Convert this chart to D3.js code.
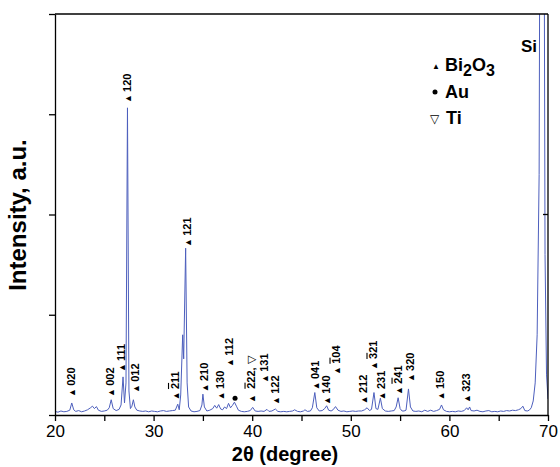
<!DOCTYPE html>
<html>
<head>
<meta charset="utf-8">
<script src="https://cdn.jsdelivr.net/npm/d3@7"></script>
<style>
  body { margin: 0; background: #fff; }
  text { font-family: "Liberation Sans", Arial, sans-serif; }
</style>
</head>
<body>
<div id="chart"></div>
<script>
// XRD pattern (2theta in degree, intensity in arbitrary units)
var twoTheta = [20.0,20.3,20.6,20.9,21.2,21.5,21.7,21.9,22.1,22.4,22.7,23.0,23.3,23.6,23.8,24.0,24.2,24.4,24.7,25.0,
  25.3,25.5,25.7,25.9,26.2,26.5,26.7,26.9,27.05,27.2,27.35,27.5,27.65,27.8,27.95,28.1,28.3,28.6,28.9,29.2,
  29.5,29.8,30.1,30.4,30.7,31.0,31.3,31.6,31.9,32.2,32.45,32.6,32.75,32.95,33.05,33.25,33.4,33.55,33.8,34.1,
  34.4,34.7,34.9,35.0,35.15,35.4,35.7,36.0,36.2,36.4,36.6,36.8,37.0,37.2,37.4,37.6,37.8,38.0,38.2,38.4,
  38.6,38.9,39.2,39.5,39.8,40.05,40.3,40.6,40.9,41.2,41.5,41.7,42.0,42.35,42.6,42.9,43.2,43.5,43.8,44.1,
  44.3,44.6,44.9,45.2,45.35,45.6,45.9,46.1,46.35,46.55,46.8,47.1,47.35,47.55,47.75,48.0,48.2,48.45,48.7,49.0,
  49.3,49.6,49.9,50.2,50.5,50.8,51.1,51.4,51.65,51.9,52.1,52.35,52.55,52.75,53.0,53.2,53.5,53.8,54.1,54.4,
  54.6,54.8,55.0,55.2,55.4,55.6,55.85,56.05,56.3,56.6,56.9,57.2,57.5,57.8,58.1,58.4,58.7,59.0,59.2,59.4,
  59.7,60.0,60.3,60.6,60.9,61.2,61.5,61.75,61.9,62.05,62.2,62.5,62.8,63.1,63.4,63.7,64.0,64.3,64.6,64.9,
  65.2,65.5,65.8,66.1,66.4,66.7,67.0,67.25,67.45,67.65,67.9,68.1,68.3,68.5,68.7,68.9,69.1,69.2,69.55,69.7,
  69.85,70.0];
var intensity = [0.9,0.7,1.0,0.8,0.9,1.2,3.0,1.3,0.9,1.1,0.8,1.0,1.3,1.8,2.2,1.6,2.1,1.2,0.9,1.0,
  1.2,1.8,3.8,1.6,1.1,1.4,2.5,9.5,3.0,8.0,76.6,6.0,1.6,2.2,3.8,2.0,1.2,1.0,0.9,1.0,
  0.8,1.0,0.9,0.8,1.0,1.1,0.9,1.0,1.1,1.2,2.7,1.3,5.0,20.0,14.0,41.6,8.0,2.0,1.0,0.8,
  0.9,1.1,2.5,5.2,2.0,1.0,1.2,1.6,2.4,1.7,2.6,1.5,1.3,2.0,1.6,2.9,1.8,2.4,3.2,2.2,
  1.2,0.9,0.8,0.9,1.1,1.9,1.0,0.9,1.0,0.9,1.4,0.9,1.0,1.5,0.9,0.8,0.9,0.8,0.9,1.0,
  1.3,0.9,0.8,1.0,1.3,0.9,1.0,1.8,5.6,1.8,1.0,1.1,1.6,2.3,1.2,1.0,1.3,2.1,1.2,0.9,
  1.0,0.8,0.9,1.0,0.9,1.0,1.0,1.3,1.8,1.1,1.4,5.6,1.6,1.4,4.2,1.6,1.0,0.9,1.0,1.1,
  2.0,4.3,1.6,1.0,1.0,1.2,6.5,2.0,1.0,0.9,1.0,0.8,1.2,0.9,1.2,0.9,1.1,1.4,2.5,1.3,
  0.9,0.8,0.9,0.8,1.0,0.9,1.1,1.8,1.3,2.0,1.1,1.0,1.2,0.9,0.8,1.0,1.1,0.8,0.9,0.8,
  1.0,0.9,1.1,1.0,1.2,1.1,1.3,1.6,2.2,1.1,1.0,1.2,1.8,3.5,8.0,20.0,60.0,150.0,180.0,40.0,
  10.0,4.0];

// peak labels: Miller index, position (2theta), foot of the label (intensity), overlined digit (-1 = none)
var peakText = ["020","002","111","012","211","120","121","210","130","112","222,","131","122",
  "041","140","104","212","321","231","241","320","150","323"];
var peakPos  = [21.62,25.58,26.74,28.11,32.17,27.3,33.34,35.16,36.73,37.6,39.93,41.25,42.31,
  46.37,47.53,48.55,51.29,52.3,53.11,54.84,56.0,59.05,61.73];
var peakFoot = [4.5,4.5,10.7,5.5,3.7,77.8,41.9,5.7,3.7,12,3.0,8.0,2.5,
  6.2,2.5,10,2.7,11.2,3.7,5.0,8.2,3.7,3.0];
var peakBar  = [-1,-1,-1,-1,0,-1,-1,-1,-1,-1,0,-1,-1,
  -1,-1,0,-1,0,-1,0,-1,-1,-1];

var auPeak = [38.26, 4.2];

var xTicks = [20,25,30,35,40,45,50,55,60,65,70];
var yTicks = [0,25,50,75,100];

var margin = {top: 14, right: 12, bottom: 52, left: 55},
    width = 560 - margin.left - margin.right,
    height = 467 - margin.top - margin.bottom;

var svg = d3.select("#chart")
  .append("svg")
    .attr("width", 560)
    .attr("height", 467)
  .append("g")
    .attr("transform", "translate(" + margin.left + "," + margin.top + ")");

var x = d3.scaleLinear().domain([20, 70]).range([0, width]);
var y = d3.scaleLinear().domain([0, 100]).range([height, 0]);

// clip for the curve
svg.append("defs").append("clipPath")
    .attr("id", "clip")
  .append("rect")
    .attr("width", width)
    .attr("height", height);

var pts = twoTheta.map(function(t, i) { return [t, intensity[i]]; });

svg.append("path")
  .datum(pts)
  .attr("clip-path", "url(#clip)")
  .attr("fill", "none")
  .attr("stroke", "#4d5fbd")
  .attr("stroke-width", 1)
  .attr("d", d3.line().x(d => x(d[0])).y(d => y(d[1])));

// axes
var xAxis = svg.append("g")
  .attr("transform", "translate(0," + height + ")")
  .call(d3.axisBottom(x).tickValues(xTicks)
    .tickFormat(d => d % 10 === 0 ? d : "")
    .tickSizeInner(6).tickSizeOuter(0).tickPadding(4));
xAxis.selectAll("text").style("font-size", "17px").attr("fill", "#000");

var yAxis = svg.append("g")
  .call(d3.axisLeft(y).tickValues(yTicks).tickFormat("").tickSizeInner(6).tickSizeOuter(0));

svg.selectAll(".domain, .tick line").attr("stroke", "#000").attr("stroke-width", 1.3);

// frame top and right
svg.append("line").attr("x1", 0).attr("x2", width).attr("y1", 0).attr("y2", 0)
  .attr("stroke", "#000").attr("stroke-width", 1.3);
svg.append("line").attr("x1", width).attr("x2", width).attr("y1", 0).attr("y2", height)
  .attr("stroke", "#000").attr("stroke-width", 1.3);
svg.append("line").attr("x1", width - 5).attr("x2", width).attr("y1", y(50)).attr("y2", y(50))
  .attr("stroke", "#000").attr("stroke-width", 1.3);

// axis titles
svg.append("text")
  .attr("x", 230)
  .attr("y", height + 46)
  .style("text-anchor", "middle")
  .style("font-size", "20px")
  .style("font-weight", "bold")
  .text("2\u03b8 (degree)");

svg.append("text")
  .attr("transform", "translate(-29," + 201 + ") rotate(-90)")
  .style("text-anchor", "middle")
  .style("font-size", "24px")
  .style("font-weight", "bold")
  .text("Intensity, a.u.");

// peak labels
peakText.forEach(function(t, i) {
  var lab = svg.append("text")
    .attr("transform", "translate(" + x(peakPos[i]) + "," + y(peakFoot[i]) + ") rotate(-90)")
    .attr("dy", "0.36em")
    .style("font-size", "11px")
    .style("font-weight", "bold");
  lab.append("tspan").style("font-size", "9px").text("\u25b2");
  lab.append("tspan").text(t === "222," ? "\u2009 " : "\u2009");
  t.split("").forEach(function(c, j) {
    var ts = lab.append("tspan").text(c);
    if (j === peakBar[i]) ts.style("text-decoration", "overline");
  });
  if (t === "222,") lab.append("tspan").style("font-weight", "normal").text(" \u25bd");
});

svg.append("circle")
  .attr("cx", x(auPeak[0]))
  .attr("cy", y(auPeak[1]))
  .attr("r", 2.5)
  .attr("fill", "#000");

// Si mark
svg.append("text")
  .attr("x", 466).attr("y", 38)
  .style("font-size", "17px").style("font-weight", "bold")
  .text("Si");

// legend
var leg = svg.append("g").attr("transform", "translate(377,0)");
leg.append("text").attr("x", 0).attr("y", 55).style("font-size", "8px").text("\u25b2");
var bi = leg.append("text").attr("x", 13).attr("y", 57)
  .style("font-size", "18px").style("font-weight", "bold");
bi.append("tspan").text("Bi");
bi.append("tspan").attr("dy", 5).style("font-size", "16px").text("2");
bi.append("tspan").attr("dy", -5).text("O");
bi.append("tspan").attr("dy", 5).style("font-size", "16px").text("3");
leg.append("circle").attr("cx", 3).attr("cy", 78).attr("r", 2.5).attr("fill", "#000");
leg.append("text").attr("x", 13).attr("y", 84)
  .style("font-size", "18px").style("font-weight", "bold").text("Au");
leg.append("text").attr("x", -2).attr("y", 109).style("font-size", "12px").text("\u25bd");
leg.append("text").attr("x", 14).attr("y", 110)
  .style("font-size", "18px").style("font-weight", "bold").text("Ti");
</script>
</body>
</html>
